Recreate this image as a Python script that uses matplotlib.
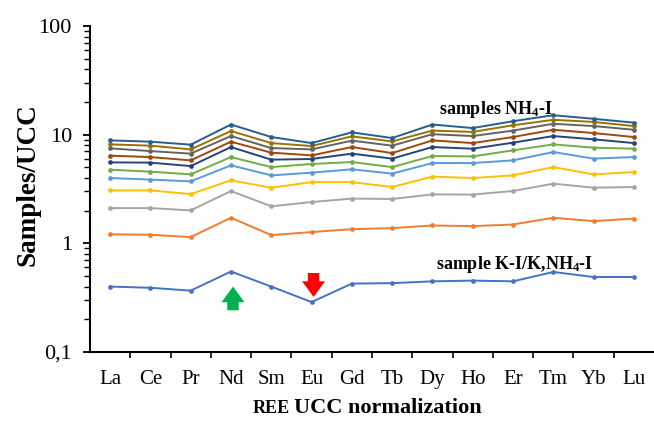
import matplotlib
matplotlib.use("Agg")
import matplotlib.pyplot as plt
from matplotlib.ticker import LogLocator, FixedLocator, NullFormatter, FixedFormatter

plt.rcParams['font.family'] = ['Liberation Serif', 'DejaVu Serif']
plt.rcParams['mathtext.fontset'] = 'custom'
plt.rcParams['mathtext.rm'] = 'Liberation Serif:bold'
plt.rcParams['mathtext.it'] = 'Liberation Serif:bold'
plt.rcParams['mathtext.bf'] = 'Liberation Serif:bold'

elements = ["La", "Ce", "Pr", "Nd", "Sm", "Eu", "Gd", "Tb", "Dy", "Ho", "Er", "Tm", "Yb", "Lu"]

s1 = [0.40, 0.39, 0.367, 0.55, 0.40, 0.288, 0.426, 0.43, 0.447, 0.454, 0.447, 0.545, 0.49, 0.49]
s2 = [1.21, 1.20, 1.14, 1.72, 1.19, 1.27, 1.35, 1.38, 1.46, 1.44, 1.49, 1.72, 1.60, 1.69]
s3 = [2.11, 2.11, 2.01, 3.03, 2.19, 2.40, 2.58, 2.56, 2.82, 2.81, 3.03, 3.54, 3.25, 3.30]
s4 = [3.07, 3.07, 2.84, 3.80, 3.25, 3.66, 3.66, 3.30, 4.11, 3.99, 4.22, 5.03, 4.31, 4.53]
s5 = [3.99, 3.86, 3.72, 5.22, 4.22, 4.47, 4.80, 4.38, 5.48, 5.48, 5.80, 6.92, 6.02, 6.22]
s6 = [4.76, 4.57, 4.31, 6.22, 5.03, 5.37, 5.60, 5.03, 6.36, 6.31, 7.17, 8.14, 7.59, 7.43]
s7 = [5.56, 5.53, 5.14, 7.69, 5.89, 5.97, 6.69, 6.02, 7.69, 7.43, 8.44, 9.71, 9.06, 8.37]
s8 = [6.41, 6.22, 5.80, 8.62, 6.83, 6.45, 7.69, 6.77, 8.86, 8.37, 9.51, 11.1, 10.35, 9.51]
s9 = [7.48, 7.06, 6.69, 9.71, 7.53, 7.32, 8.81, 7.92, 10.1, 9.71, 10.9, 12.6, 12.0, 11.1]
s10 = [8.14, 7.92, 7.32, 10.8, 8.37, 7.86, 9.65, 8.67, 10.9, 10.6, 12.2, 13.7, 13.1, 12.0]
s11 = [8.86, 8.62, 8.09, 12.4, 9.51, 8.37, 10.5, 9.31, 12.4, 11.5, 13.3, 15.1, 14.0, 12.9]

series = [s1, s2, s3, s4, s5, s6, s7, s8, s9, s10, s11]
colors = ["#4472C4", "#ED7D31", "#A5A5A5", "#FFC000", "#5B9BD5", "#70AD47",
          "#264478", "#9E480E", "#636363", "#997300", "#255E91"]

y_ticks = [0.1, 1, 10, 100]
y_ticklabels = ["0,1", "1", "10", "100"]

fig = plt.figure(figsize=(6.54, 4.23), dpi=100)
ax = fig.add_axes([90/654, 1-352/423, 564/654, (352-26)/423])

x = list(range(len(elements)))
for vals, c in zip(series, colors):
    ax.plot(x, vals, color=c, lw=1.4, marker='o', ms=3.4, markeredgewidth=0, zorder=3,
            clip_on=False)

ax.set_yscale('log')
ax.set_ylim(0.1, 100)
ax.set_xlim(-0.5, len(elements) - 0.5)

ax.yaxis.set_major_locator(FixedLocator(y_ticks))
ax.yaxis.set_major_formatter(FixedFormatter(y_ticklabels))
ax.yaxis.set_minor_locator(LogLocator(base=10, subs=range(2, 10)))
ax.yaxis.set_minor_formatter(NullFormatter())
ax.tick_params(axis='y', which='major', direction='out', length=5, width=1.3, labelsize=16, pad=8)
ax.tick_params(axis='y', which='minor', direction='out', length=4, width=1.0)

ax.set_xticks(x)
ax.set_xticklabels(elements)
ax.xaxis.set_minor_locator(FixedLocator([i + 0.5 for i in x[:-1]]))
ax.tick_params(axis='x', which='major', length=0, labelsize=15, pad=13)
ax.tick_params(axis='x', which='minor', direction='out', length=4.5, width=1.2)

for side in ['top', 'right']:
    ax.spines[side].set_visible(False)
for side in ['left', 'bottom']:
    ax.spines[side].set_linewidth(1.5)

fig.text(28/654, 1-185/423, "Samples/UCC", fontsize=19.5, fontweight='bold',
         rotation=90, ha='center', va='center')
t_main = fig.text(294/654, 1-408/423, "UCC normalization", fontsize=16, fontweight='bold',
                  ha='left', va='center')
fig.text(290/654, 1-408/423, "REE", fontsize=13, fontweight='bold',
         ha='right', va='center')

ax.text(9.58, 17.0, r"samples NH$_\mathregular{4}$-I", fontsize=13, fontweight='bold',
        ha='center', va='center')
ax.text(10.05, 0.641, r"sample K-I/K,NH$_\mathregular{4}$-I", fontsize=13, fontweight='bold',
        ha='center', va='center')

arrow_style = 'simple,head_width=1.1,head_length=0.75,tail_width=0.55'
ax.annotate('', xy=(3.05, 0.40), xytext=(3.05, 0.242),
            arrowprops=dict(arrowstyle=arrow_style, color='#00B050', mutation_scale=15, lw=0,
                            shrinkA=0, shrinkB=0))
ax.annotate('', xy=(5.05, 0.321), xytext=(5.05, 0.533),
            arrowprops=dict(arrowstyle=arrow_style, color='#FF0000', mutation_scale=15, lw=0,
                            shrinkA=0, shrinkB=0))

fig.savefig("out.png", dpi=100)
